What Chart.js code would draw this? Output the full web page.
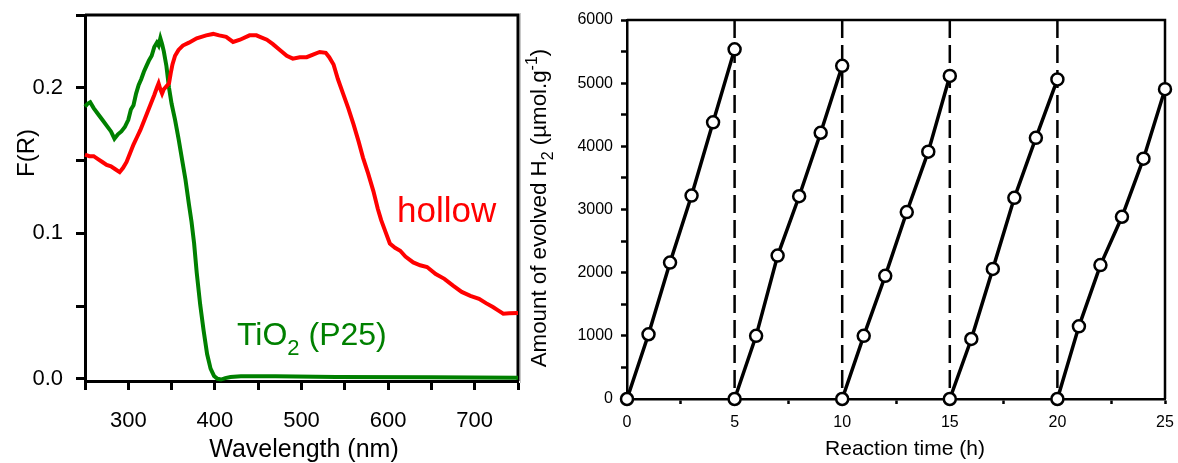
<!DOCTYPE html>
<html>
<head>
<meta charset="utf-8">
<title>F(R) spectra / H2 evolution cycles</title>
<script src="https://cdn.jsdelivr.net/npm/chart.js@4.4.1/dist/chart.umd.min.js"></script>
<style>
  html, body { margin: 0; padding: 0; background: #fff; }
  #page { position: relative; width: 1178px; height: 463px; overflow: hidden; }
  #page canvas { position: absolute; top: 0; }
  #spectra { left: 0; }
  #cycles { left: 500px; }
  .sep { position: absolute; left: 520px; top: 13px; width: 1px; height: 370px; background: #c8c8c8; }
</style>
</head>
<body>
<div id="page">
  <div class="sep"></div>
  <canvas id="spectra" width="530" height="463"></canvas>
  <canvas id="cycles" width="678" height="463"></canvas>
</div>
<script>
// --- left panel: F(R) vs wavelength ---
const hollowNm = [250, 255, 260, 265, 270, 275, 280, 285, 290, 294, 298, 302, 306, 310, 314, 318, 322, 326, 330, 333,
  335, 337, 339, 341, 344, 347, 349, 351, 354, 358, 363, 370, 379, 390, 398, 405, 413, 421, 429, 440,
  448, 452, 460, 467, 475, 483, 490, 498, 506, 514, 521, 528, 532, 537, 542, 548, 554, 560, 566, 571,
  577, 583, 588, 592, 597, 602, 608, 614, 620, 629, 637, 645, 655, 665, 675, 685, 695, 705, 713, 721,
  727, 733, 740, 750];
const hollowFR = [0.154, 0.153, 0.153, 0.151, 0.149, 0.147, 0.146, 0.144, 0.142, 0.145, 0.149, 0.155, 0.161, 0.166, 0.171, 0.177, 0.183, 0.189, 0.195, 0.200,
  0.203, 0.199, 0.196, 0.199, 0.201, 0.203, 0.210, 0.216, 0.222, 0.226, 0.229, 0.231, 0.234, 0.236, 0.237, 0.236, 0.235, 0.2315, 0.233, 0.236,
  0.236, 0.235, 0.233, 0.230, 0.226, 0.222, 0.220, 0.221, 0.221, 0.223, 0.2246, 0.224, 0.221, 0.216, 0.206, 0.196, 0.186, 0.175, 0.163, 0.152,
  0.141, 0.129, 0.117, 0.109, 0.101, 0.093, 0.090, 0.088, 0.084, 0.080, 0.078, 0.0768, 0.072, 0.0687, 0.064, 0.0597, 0.057, 0.055, 0.052, 0.0493,
  0.047, 0.0447, 0.045, 0.0452];

const p25Nm = [250, 253, 256, 260, 265, 270, 275, 280, 284, 288, 292, 296, 300, 303, 306, 309, 312, 315, 318, 321,
  324, 327, 330, 333, 335, 337, 339, 341, 344, 347, 350, 354, 358, 362, 366, 370, 373, 376, 379, 383,
  387, 391, 395, 399, 403, 407, 412, 418, 430, 470, 540, 650, 750];
const p25FR = [0.187, 0.189, 0.190, 0.186, 0.182, 0.178, 0.174, 0.170, 0.165, 0.168, 0.170, 0.173, 0.178, 0.185, 0.188, 0.196, 0.202, 0.206, 0.211, 0.215,
  0.219, 0.222, 0.228, 0.231, 0.229, 0.234, 0.230, 0.225, 0.215, 0.200, 0.189, 0.178, 0.165, 0.151, 0.137, 0.120, 0.108, 0.093, 0.073, 0.051,
  0.033, 0.017, 0.007, 0.002, 0.0, -0.0005, 0.0005, 0.0013, 0.0017, 0.0017, 0.0013, 0.001, 0.0008];

const wavelengthLabels = [300, 400, 500, 600, 700];
const frLabels = [0.0, 0.1, 0.2];

// --- right panel: H2 evolved over 5 cycles ---
const cycleHours = [
  [0, 1, 2, 3, 4, 5],
  [5, 6, 7, 8, 9, 10],
  [10, 11, 12, 13, 14, 15],
  [15, 16, 17, 18, 19, 20],
  [20, 21, 22, 23, 24, 25],
];
const cycleH2 = [
  [0, 1025, 2160, 3220, 4380, 5535],
  [0, 1000, 2270, 3210, 4215, 5275],
  [0, 1000, 1950, 2960, 3915, 5115],
  [0, 950, 2060, 3185, 4135, 5060],
  [0, 1150, 2120, 2885, 3805, 4905],
];
const evacuationHours = [5, 10, 15, 20];
const timeLabels = [0, 5, 10, 15, 20, 25];
const h2Labels = [0, 1000, 2000, 3000, 4000, 5000, 6000];

const FONT = '"Liberation Sans", Arial, Helvetica, sans-serif';
const RED = '#ff0000';
const GREEN = '#008000';

Chart.defaults.color = '#000';
Chart.defaults.font.family = FONT;

const toXY = (xs, ys) => xs.map((x, i) => ({ x, y: ys[i] }));
const near = (list, v) => list.some(l => Math.abs(l - v) < 1e-9);

// text with sub/superscript parts, drawn straight on the canvas
function drawRich(ctx, it) {
  const small = Math.round(it.size * 0.7);
  const fontOf = p => `${p.sub || p.sup ? small : it.size}px ${FONT}`;
  ctx.save();
  ctx.translate(it.x, it.y);
  if (it.rotate) ctx.rotate(it.rotate);
  ctx.fillStyle = it.color || '#000';
  ctx.textBaseline = 'alphabetic';
  ctx.textAlign = 'left';
  let total = 0;
  it.parts.forEach(p => { ctx.font = fontOf(p); total += ctx.measureText(p.t).width; });
  let cx = it.align === 'center' ? -total / 2 : 0;
  it.parts.forEach(p => {
    ctx.font = fontOf(p);
    const dy = p.sub ? it.size * 0.32 : p.sup ? -it.size * 0.42 : 0;
    ctx.fillText(p.t, cx, dy);
    cx += ctx.measureText(p.t).width;
  });
  ctx.restore();
}

function textPlugin(items) {
  return { id: 'richText', afterDraw(chart) { items.forEach(it => drawRich(chart.ctx, it)); } };
}

function framePlugin(width) {
  return {
    id: 'frame',
    beforeDatasetsDraw(chart) {
      const { ctx, chartArea: a } = chart;
      ctx.save();
      ctx.strokeStyle = '#000';
      ctx.lineWidth = width;
      ctx.beginPath();
      ctx.moveTo(a.left, a.top);
      ctx.lineTo(a.right, a.top);
      ctx.lineTo(a.right, a.bottom);
      ctx.stroke();
      ctx.restore();
    },
  };
}

function axisOpts(o) {
  return {
    type: 'linear',
    min: o.min, max: o.max,
    ticks: {
      stepSize: o.step, includeBounds: false, autoSkip: false, maxRotation: 0,
      padding: o.pad, font: { size: o.font }, color: '#000',
      callback: v => near(o.labels, v) ? o.fmt(v) : '',
    },
    grid: { drawOnChartArea: false, tickLength: o.tick, tickWidth: o.lw, tickColor: '#000' },
    border: { display: true, width: o.lw, color: '#000' },
    afterFit: s => {
      // fixed box size, no extra room for edge labels
      o.fit(s);
      s.paddingTop = s.paddingBottom = s.paddingLeft = s.paddingRight = 0;
    },
  };
}

// left chart
new Chart(document.getElementById('spectra'), {
  type: 'line',
  data: {
    datasets: [
      { data: toXY(hollowNm, hollowFR), borderColor: RED, borderWidth: 4, pointRadius: 0, clip: false },
      { data: toXY(p25Nm, p25FR), borderColor: GREEN, borderWidth: 4, pointRadius: 0, clip: false },
    ],
  },
  options: {
    responsive: false, animation: false, events: [],
    layout: { padding: { left: 0, top: 15, right: 12, bottom: 0 } },
    plugins: { legend: { display: false }, tooltip: { enabled: false } },
    scales: {
      x: axisOpts({ min: 250, max: 750, step: 50, labels: wavelengthLabels, fmt: v => String(v),
        pad: 18, font: 22, tick: 9, lw: 3, fit: s => { s.height = 82; } }),
      y: axisOpts({ min: -0.0015, max: 0.25, step: 0.05, labels: frLabels, fmt: v => v.toFixed(1),
        pad: 13, font: 22, tick: 9, lw: 3, fit: s => { s.width = 85; } }),
    },
  },
  plugins: [framePlugin(3), textPlugin([
    { parts: [{ t: 'F(R)' }], x: 34, y: 153, size: 24, rotate: -Math.PI / 2, align: 'center' },
    { parts: [{ t: 'Wavelength (nm)' }], x: 304, y: 457, size: 25, align: 'center' },
    { parts: [{ t: 'hollow' }], x: 397, y: 222, size: 35, color: RED },
    { parts: [{ t: 'TiO' }, { t: '2', sub: true }, { t: ' (P25)' }], x: 237, y: 345, size: 32, color: GREEN },
  ])],
});

// right chart: solid runs + dashed evacuation markers
const runSets = cycleHours.map((hrs, i) => ({
  data: toXY(hrs, cycleH2[i]),
  borderColor: '#000', borderWidth: 3.5,
  pointRadius: 6, pointBorderWidth: 2.5, pointBackgroundColor: '#fff', pointBorderColor: '#000',
  clip: false, order: 0,
}));
const dashSets = evacuationHours.map(h => ({
  data: [{ x: h, y: 6000 }, { x: h, y: 0 }],
  borderColor: '#000', borderWidth: 2.5, borderDash: [18, 7],
  pointRadius: 0, clip: false, order: 1,
}));

new Chart(document.getElementById('cycles'), {
  type: 'line',
  data: { datasets: [...runSets, ...dashSets] },
  options: {
    responsive: false, animation: false, events: [],
    layout: { padding: { left: 0, top: 20, right: 13, bottom: 0 } },
    plugins: { legend: { display: false }, tooltip: { enabled: false } },
    scales: {
      x: axisOpts({ min: 0, max: 25, step: 2.5, labels: timeLabels, fmt: v => String(v),
        pad: 9, font: 16, tick: 5, lw: 2.5, fit: s => { s.height = 64; } }),
      y: axisOpts({ min: 0, max: 6000, step: 500, labels: h2Labels, fmt: v => String(v),
        pad: 8, font: 16, tick: 6, lw: 2.5, fit: s => { s.width = 127; } }),
    },
  },
  plugins: [framePlugin(2.5), textPlugin([
    { parts: [{ t: 'Amount of evolved H' }, { t: '2', sub: true }, { t: ' (µmol.g' }, { t: '-1', sup: true }, { t: ')' }],
      x: 46, y: 208, size: 22.3, rotate: -Math.PI / 2, align: 'center' },
    { parts: [{ t: 'Reaction time (h)' }], x: 405, y: 455, size: 21, align: 'center' },
  ])],
});
</script>
</body>
</html>
